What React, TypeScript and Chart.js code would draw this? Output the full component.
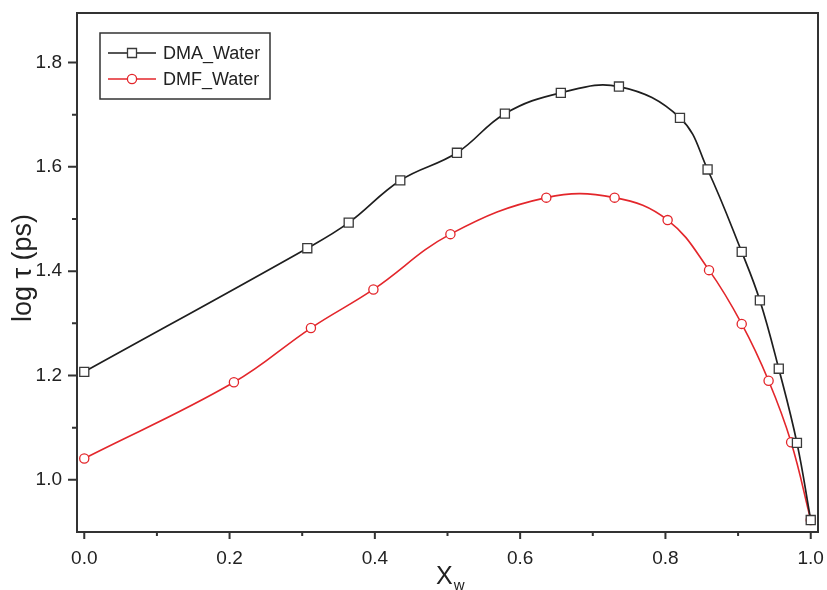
import React, { useEffect, useRef } from 'react';
import { Chart, registerables } from 'chart.js';

Chart.register(...registerables);

// ---- data ----
const dmaX = [0, 0.307, 0.364, 0.435, 0.513, 0.579, 0.656, 0.736, 0.82, 0.858, 0.905, 0.93, 0.956, 0.981, 1.0];
const dmaY = [1.207, 1.444, 1.493, 1.574, 1.627, 1.702, 1.742, 1.754, 1.694, 1.595, 1.437, 1.344, 1.213, 1.071, 0.923];
const dmfX = [0, 0.206, 0.312, 0.398, 0.504, 0.636, 0.73, 0.803, 0.86, 0.905, 0.942, 0.973, 1.0];
const dmfY = [1.041, 1.187, 1.291, 1.365, 1.471, 1.541, 1.541, 1.498, 1.402, 1.299, 1.19, 1.072, 0.923];
const seriesNames = ['DMA_Water', 'DMF_Water'];
const xTicks = [0, 0.2, 0.4, 0.6, 0.8, 1.0];
const xMinorTicks = [0.1, 0.3, 0.5, 0.7, 0.9];
const yTicks = [1.0, 1.2, 1.4, 1.6, 1.8];
const yMinorTicks = [1.1, 1.3, 1.5, 1.7];
const xRange = [-0.01, 1.01];
const yRange = [0.9, 1.895];
const xTitleMain = 'X';
const xTitleSub = 'w';
const yTitle = 'log τ (ps)';

const FONT = '"Liberation Sans", Arial, sans-serif';
const BLACK = '#1e1e1e';
const MARK_BLACK = '#3a3a3a';
const RED = '#e3262b';
const AXIS = '#333333';
const TEXT = '#222222';

function drawMarker(ctx: CanvasRenderingContext2D, kind: string, x: number, y: number, color: string) {
  ctx.save();
  ctx.fillStyle = '#ffffff';
  ctx.strokeStyle = color;
  ctx.lineWidth = 1.3;
  ctx.beginPath();
  if (kind === 'rect') {
    ctx.rect(x - 4.5, y - 4.5, 9, 9);
  } else {
    ctx.arc(x, y, 4.6, 0, Math.PI * 2);
  }
  ctx.fill();
  ctx.stroke();
  ctx.restore();
}

const decorPlugin = {
  id: 'decor',
  afterDraw(chart: any) {
    const ctx: CanvasRenderingContext2D = chart.ctx;
    const { left, right, top, bottom } = chart.chartArea;
    const xs = chart.scales.x;
    const ys = chart.scales.y;
    ctx.save();
    // frame
    ctx.strokeStyle = AXIS;
    ctx.lineWidth = 2;
    ctx.strokeRect(left, top, right - left, bottom - top);
    // ticks
    ctx.lineWidth = 2;
    ctx.beginPath();
    xTicks.forEach((v) => {
      const px = xs.getPixelForValue(v);
      ctx.moveTo(px, bottom);
      ctx.lineTo(px, bottom + 7);
    });
    xMinorTicks.forEach((v) => {
      const px = xs.getPixelForValue(v);
      ctx.moveTo(px, bottom);
      ctx.lineTo(px, bottom + 4);
    });
    yTicks.forEach((v) => {
      const py = ys.getPixelForValue(v);
      ctx.moveTo(left, py);
      ctx.lineTo(left - 9, py);
    });
    yMinorTicks.forEach((v) => {
      const py = ys.getPixelForValue(v);
      ctx.moveTo(left, py);
      ctx.lineTo(left - 5, py);
    });
    ctx.stroke();

    // legend
    const bx = left + 23;
    const by = top + 20;
    const bw = 170;
    const bh = 66;
    ctx.fillStyle = '#ffffff';
    ctx.fillRect(bx, by, bw, bh);
    ctx.lineWidth = 1.5;
    ctx.strokeStyle = AXIS;
    ctx.strokeRect(bx, by, bw, bh);
    const items = [
      { name: seriesNames[0], color: BLACK, mark: MARK_BLACK, kind: 'rect', y: by + 20 },
      { name: seriesNames[1], color: RED, mark: RED, kind: 'circle', y: by + 46 },
    ];
    items.forEach((it) => {
      ctx.strokeStyle = it.color;
      ctx.lineWidth = 1.6;
      ctx.beginPath();
      ctx.moveTo(bx + 8, it.y);
      ctx.lineTo(bx + 56, it.y);
      ctx.stroke();
      drawMarker(ctx, it.kind, bx + 32, it.y, it.mark);
      ctx.fillStyle = TEXT;
      ctx.font = `18px ${FONT}`;
      ctx.textAlign = 'left';
      ctx.textBaseline = 'middle';
      ctx.fillText(it.name, bx + 63, it.y + 1);
    });

    // y title
    ctx.save();
    ctx.translate(31, 268);
    ctx.rotate(-Math.PI / 2);
    ctx.fillStyle = TEXT;
    ctx.font = `27px ${FONT}`;
    ctx.textAlign = 'center';
    ctx.textBaseline = 'alphabetic';
    ctx.fillText(yTitle, 0, 0);
    ctx.restore();

    // x title
    ctx.fillStyle = TEXT;
    ctx.textAlign = 'left';
    ctx.textBaseline = 'alphabetic';
    ctx.font = `25px ${FONT}`;
    ctx.fillText(xTitleMain, 436, 584);
    const wX = 436 + ctx.measureText(xTitleMain).width + 1;
    ctx.font = `15px ${FONT}`;
    ctx.fillText(xTitleSub, wX, 590);
    ctx.restore();
  },
};

export default function App() {
  const canvasRef = useRef<HTMLCanvasElement | null>(null);

  useEffect(() => {
    if (!canvasRef.current) return;
    const chart = new Chart(canvasRef.current, {
      type: 'scatter',
      data: {
        datasets: [
          {
            label: seriesNames[0],
            data: dmaX.map((x, i) => ({ x, y: dmaY[i] })),
            showLine: true,
            borderColor: BLACK,
            borderWidth: 1.7,
            tension: 0.4,
            pointStyle: 'rect',
            pointRadius: 6.4,
            pointBorderColor: MARK_BLACK,
            pointBackgroundColor: '#ffffff',
            pointBorderWidth: 1.3,
          },
          {
            label: seriesNames[1],
            data: dmfX.map((x, i) => ({ x, y: dmfY[i] })),
            showLine: true,
            borderColor: RED,
            borderWidth: 1.6,
            tension: 0.4,
            pointStyle: 'circle',
            pointRadius: 4.6,
            pointBorderColor: RED,
            pointBackgroundColor: '#ffffff',
            pointBorderWidth: 1.3,
          },
        ],
      },
      options: {
        responsive: false,
        animation: false,
        layout: { padding: { top: 13, right: 9, left: 0, bottom: 0 } },
        plugins: {
          legend: { display: false },
          tooltip: { enabled: false },
        },
        scales: {
          x: {
            type: 'linear',
            min: xRange[0],
            max: xRange[1],
            afterBuildTicks: (s: any) => {
              s.ticks = xTicks.map((v) => ({ value: v }));
            },
            afterFit: (s: any) => {
              s.height = 58;
              s.paddingLeft = 0;
              s.paddingRight = 0;
            },
            grid: { display: false },
            border: { display: false },
            ticks: {
              autoSkip: false,
              maxRotation: 0,
              padding: 7,
              color: TEXT,
              font: { family: FONT, size: 19 },
              callback: (v: any) => Number(v).toFixed(1),
            },
          },
          y: {
            type: 'linear',
            min: yRange[0],
            max: yRange[1],
            afterBuildTicks: (s: any) => {
              s.ticks = yTicks.map((v) => ({ value: v }));
            },
            afterFit: (s: any) => {
              s.width = 77;
              s.paddingTop = 0;
              s.paddingBottom = 0;
            },
            grid: { display: false },
            border: { display: false },
            ticks: {
              autoSkip: false,
              padding: 7,
              color: TEXT,
              font: { family: FONT, size: 19 },
              callback: (v: any) => Number(v).toFixed(1),
            },
          },
        },
      },
      plugins: [decorPlugin],
    });
    return () => chart.destroy();
  }, []);

  return (
    <div style={{ position: 'absolute', left: 0, top: 0, width: 827, height: 590, background: '#ffffff' }}>
      <canvas ref={canvasRef} width={827} height={590} />
    </div>
  );
}
